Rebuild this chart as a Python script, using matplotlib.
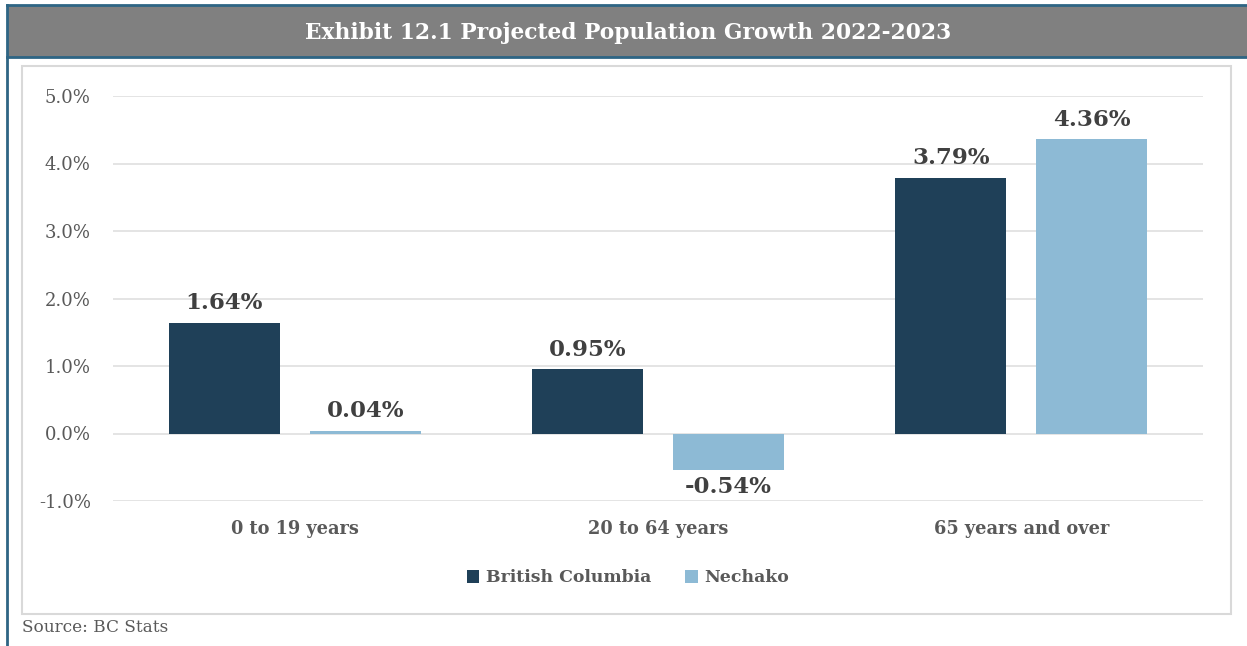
import matplotlib.pyplot as plt
from matplotlib.patches import Rectangle
from matplotlib.lines import Line2D
import numpy as np

categories = ['0 to 19 years', '20 to 64 years', '65 years and over']
british_columbia = [1.64, 0.95, 3.79]
nechako = [0.04, -0.54, 4.36]
series_names = ['British Columbia', 'Nechako']
yticks = [-1, 0, 1, 2, 3, 4, 5]

dark = '#1f4058'
light = '#8dbad5'
text_col = '#595959'
serif = ['DejaVu Serif']

W, H = 1247, 646
fig = plt.figure(figsize=(W / 100, H / 100), dpi=100)

# frame: title bar, blue rules, chart box
fig.patches.append(Rectangle((7 / W, 1 - 57 / H), 1 - 7 / W, 52 / H, transform=fig.transFigure,
                             facecolor='#808080', edgecolor='none'))
for y in (5, 57):
    fig.lines.append(Line2D([7 / W, 1], [1 - y / H, 1 - y / H], transform=fig.transFigure,
                            color='#2e6584', lw=2))
fig.lines.append(Line2D([7 / W, 7 / W], [0, 1 - 5 / H], transform=fig.transFigure,
                        color='#2e6584', lw=2))
fig.patches.append(Rectangle((22 / W, 1 - 614 / H), (1231 - 22) / W, (614 - 66) / H,
                             transform=fig.transFigure, facecolor='none',
                             edgecolor='#d9d9d9', lw=1.5))

fig.text(628 / W, 1 - 33 / H, 'Exhibit 12.1 Projected Population Growth 2022-2023',
         ha='center', va='center', color='white', fontsize=15.7, fontweight='bold', family=serif)
fig.text(22 / W, 1 - 628 / H, 'Source: BC Stats', ha='left', va='center',
         color=text_col, fontsize=12.2, family=serif)

ax = fig.add_axes([113 / W, 1 - 501 / H, (1203 - 113) / W, (501 - 96) / H])
x = np.arange(len(categories))
w = 0.305
off = 0.194
b1 = ax.bar(x - off, british_columbia, w, color=dark, label=series_names[0], zorder=3)
b2 = ax.bar(x + off, nechako, w, color=light, label=series_names[1], zorder=3)

for bars, vals in ((b1, british_columbia), (b2, nechako)):
    for bar, v in zip(bars, vals):
        cx = bar.get_x() + bar.get_width() / 2
        if v >= 0:
            ax.annotate(f'{v:.2f}%', (cx, v), xytext=(0, 6), textcoords='offset points',
                        ha='center', va='bottom', fontsize=16.5, fontweight='bold',
                        color='#404040', family=serif)
        else:
            ax.annotate(f'{v:.2f}%', (cx, v), xytext=(0, -4), textcoords='offset points',
                        ha='center', va='top', fontsize=16.5, fontweight='bold',
                        color='#404040', family=serif)

ax.set_xlim(-0.5, 2.5)
ax.set_ylim(-1, 5)
ax.set_yticks(yticks)
ax.set_yticklabels([f'{t:.1f}%' for t in yticks], family=serif, fontsize=13, color=text_col)
ax.set_xticks(x)
ax.set_xticklabels(categories, family=serif, fontsize=12.8, fontweight='bold', color=text_col)
ax.tick_params(length=0)
ax.tick_params(axis='y', pad=16)
ax.tick_params(axis='x', pad=14)
ax.grid(axis='y', color='#dcdcdc', lw=1.1, zorder=0)
for s in ax.spines.values():
    s.set_visible(False)

leg = fig.legend(handles=[b1, b2], loc='center', bbox_to_anchor=(628 / W, 1 - 578 / H),
                 ncol=2, frameon=False, handlelength=0.7, handleheight=0.7,
                 columnspacing=2.0, handletextpad=0.4,
                 prop={'family': serif, 'size': 12.4, 'weight': 'bold'})
for t in leg.get_texts():
    t.set_color(text_col)

fig.savefig('out.png', dpi=100)
